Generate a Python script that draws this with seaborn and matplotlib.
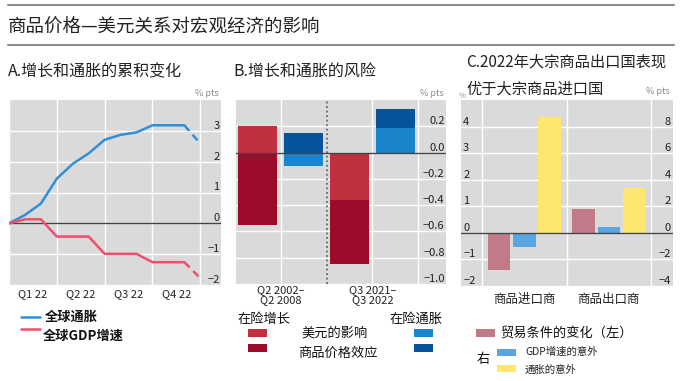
import numpy as np
import pandas as pd
import matplotlib
matplotlib.use('Agg')
import matplotlib.pyplot as plt
from matplotlib.patches import Rectangle
from matplotlib.lines import Line2D
import seaborn as sns

sns.set_theme(style="white")
plt.rcParams['font.family'] = ['Noto Sans CJK SC', 'DejaVu Sans']
plt.rcParams['axes.unicode_minus'] = True

W, H = 700, 381
BG = "#dadada"
GRAY_TXT = "#8a8a8a"

# ---- panel A data: cumulative change, monthly from start of 2022
months = list(range(13))
inflation = [0, 0.27, 0.64, 1.45, 1.93, 2.27, 2.71, 2.87, 2.95, 3.18, 3.18, 3.18, 2.59]
gdp_growth = [0, 0.13, 0.13, -0.43, -0.43, -0.43, -0.99, -0.99, -0.99, -1.26, -1.26, -1.26, -1.78]
quarter_labels = ["Q1 22", "Q2 22", "Q3 22", "Q4 22"]
yticks_a = [-2, -1, 0, 1, 2, 3]

# ---- panel B data: growth-at-risk / inflation-at-risk
periods_b = ["Q2 2002–\nQ2 2008", "Q3 2021–\nQ3 2022"]
growth_dollar = [0.20, -0.36]
growth_commodity = [-0.55, -0.49]
infl_dollar = [-0.10, 0.19]
infl_commodity = [0.15, 0.14]
yticks_b = [-1.0, -0.8, -0.6, -0.4, -0.2, 0.0, 0.2]

# ---- panel C data
groups_c = ["商品进口商", "商品出口商"]
terms_of_trade = [-1.38, 0.90]      # left axis
gdp_surprise = [-1.05, 0.43]        # right axis
infl_surprise = [8.70, 3.37]        # right axis
yticks_c_left = [-2, -1, 0, 1, 2, 3, 4]
yticks_c_right = [-4, -2, 0, 2, 4, 6, 8]

c_blue, c_red = "#2f8fd8", "#f04e6c"
b_lred, b_dred, b_lblue, b_dblue = "#c0303f", "#9c0c2a", "#1a84cc", "#07549a"
c_pink, c_sky, c_yel = "#c27a88", "#5aa6e2", "#ffe66e"


def fx(x):
    return x / W


def fy(y):
    return 1 - y / H


def ax_rect(l, t, r, b):
    return [fx(l), fy(b), (r - l) / W, (b - t) / H]


def style_ax(ax):
    ax.set_facecolor(BG)
    for s in ax.spines.values():
        s.set_visible(False)


fig = plt.figure(figsize=(7, 3.81), dpi=100)

# rules and title
fig.add_artist(Line2D([fx(8), fx(674)], [fy(5), fy(5)], color="#8c8c8c", lw=1.5))
fig.add_artist(Line2D([fx(8), fx(674)], [fy(45), fy(45)], color="#8c8c8c", lw=1.5))
fig.text(fx(8), fy(28), "商品价格—美元关系对宏观经济的影响", fontsize=13.3, va="center", ha="left", color="#222222")

# ================= Panel A =================
axA = fig.add_axes(ax_rect(9, 100, 221, 285))
style_ax(axA)
dfA = pd.DataFrame({"month": months, "infl": inflation, "gdp": gdp_growth})
sns.lineplot(data=dfA.iloc[:12], x="month", y="infl", color=c_blue, lw=1.8, ax=axA)
sns.lineplot(data=dfA.iloc[11:], x="month", y="infl", color=c_blue, lw=1.8, ax=axA, linestyle=(0, (3, 2)))
sns.lineplot(data=dfA.iloc[:12], x="month", y="gdp", color=c_red, lw=1.8, ax=axA)
sns.lineplot(data=dfA.iloc[11:], x="month", y="gdp", color=c_red, lw=1.8, ax=axA, linestyle=(0, (3, 2)))
axA.axhline(0, color="#444444", lw=1, zorder=1.5)
axA.set_xlim(0, 13.3)
axA.set_ylim(-2, 4)
axA.set_xticks([0, 3, 6, 9, 12])
axA.set_xticklabels([])
axA.set_xticks([1.5, 4.5, 7.5, 10.5], minor=True)
axA.set_xticklabels(quarter_labels, minor=True)
axA.tick_params(axis="x", which="major", direction="in", length=5, width=1, color="#444444")
axA.tick_params(axis="x", which="minor", length=0, pad=3, labelsize=8, labelcolor="#222222")
axA.grid(True, axis="both", which="major", color="white", lw=1)
axA.set_axisbelow(True)
axA.yaxis.tick_right()
axA.set_yticks(yticks_a)
axA.set_yticklabels([str(v).replace("-", "−") for v in yticks_a])
axA.tick_params(axis="y", length=0, pad=-1, labelsize=8, labelcolor="#222222")
for lab in axA.get_yticklabels():
    lab.set_horizontalalignment("right")
    lab.set_verticalalignment("bottom")
axA.set_xlabel("")
axA.set_ylabel("")

fig.text(fx(8), fy(72), "A.增长和通胀的累积变化", fontsize=11.5, va="center", ha="left", color="#222222")
fig.text(fx(207), fy(93), "% pts", fontsize=6.5, ha="center", va="center", color=GRAY_TXT)

fig.add_artist(Line2D([fx(21), fx(40)], [fy(317), fy(317)], color=c_blue, lw=1.8))
fig.add_artist(Line2D([fx(21), fx(40)], [fy(329), fy(329)], color=c_red, lw=1.8))
fig.text(fx(45), fy(317), "全球通胀", fontsize=9.5, fontweight="bold", va="center", ha="left", color="#111111")
fig.text(fx(43), fy(336), "全球GDP增速", fontsize=9.5, fontweight="bold", va="center", ha="left", color="#111111")

# ================= Panel B =================
axB = fig.add_axes(ax_rect(236, 100, 446, 284))
style_ax(axB)
x_growth = np.array([0, 2])
x_infl = np.array([1, 3])
gd = np.array(growth_dollar)
gc = np.array(growth_commodity)
idl = np.array(infl_dollar)
ic = np.array(infl_commodity)
# commodity effect stacks on the dollar effect when both point the same way
gc_bottom = np.where(np.sign(gd) == np.sign(gc), gd, 0)
ic_bottom = np.where(np.sign(idl) == np.sign(ic), idl, 0)
axB.bar(x_growth, gd, width=0.85, color=b_lred, linewidth=0, zorder=2)
axB.bar(x_growth, gc, bottom=gc_bottom, width=0.85, color=b_dred, linewidth=0, zorder=2)
axB.bar(x_infl, idl, width=0.83, color=b_lblue, linewidth=0, zorder=2)
axB.bar(x_infl, ic, bottom=ic_bottom, width=0.83, color=b_dblue, linewidth=0, zorder=2)
axB.axhline(0, color="#444444", lw=1, zorder=3)
axB.axvline(1.5, color="#666666", lw=1.3, linestyle=(0, (1, 1.5)), zorder=1.5)
axB.set_xlim(-0.47, 4.1)
axB.set_ylim(-1.0, 0.4)
axB.set_xticks([0.5, 2.5, 3.5])
axB.set_xticklabels([periods_b[0], periods_b[1], ""])
axB.tick_params(axis="x", length=0, pad=1, labelsize=8, labelcolor="#222222")
for lab in axB.get_xticklabels():
    lab.set_linespacing(0.95)
axB.grid(True, axis="both", color="white", lw=1)
axB.set_axisbelow(True)
axB.yaxis.tick_right()
axB.set_yticks(yticks_b)
axB.set_yticklabels([f"{v:.1f}".replace("-", "−") for v in yticks_b])
axB.tick_params(axis="y", length=0, pad=-1, labelsize=8, labelcolor="#222222")
for lab in axB.get_yticklabels():
    lab.set_horizontalalignment("right")
    lab.set_verticalalignment("bottom")
fig.text(fx(233), fy(72), "B.增长和通胀的风险", fontsize=11.5, va="center", ha="left", color="#222222")
fig.text(fx(432), fy(93), "% pts", fontsize=6.5, ha="center", va="center", color=GRAY_TXT)

fig.text(fx(237), fy(319), "在险增长", fontsize=9.5, va="center", ha="left", color="#111111")
fig.text(fx(442), fy(319), "在险通胀", fontsize=9.5, va="center", ha="right", color="#111111")
for (x0, y0, col) in [(248, 329, b_lred), (248, 344, b_dred), (414, 329, b_lblue), (414, 344, b_dblue)]:
    fig.add_artist(Rectangle((fx(x0), fy(y0 + 8)), 19 / W, 8 / H, transform=fig.transFigure,
                             facecolor=col, edgecolor="none"))
fig.text(fx(335), fy(333), "美元的影响", fontsize=9.5, va="center", ha="center", color="#111111")
fig.text(fx(338), fy(353), "商品价格效应", fontsize=9.5, va="center", ha="center", color="#111111")

# ================= Panel C =================
axC = fig.add_axes(ax_rect(461, 100, 673, 286))
style_ax(axC)
axC2 = axC.twinx()
for s in axC2.spines.values():
    s.set_visible(False)
series_c = ["贸易条件的变化（左）", "GDP增速的意外", "通胀的意外"]
xc = np.arange(len(groups_c))
bw = 0.265
axC.bar(xc - 0.3, terms_of_trade, width=bw, color=c_pink, linewidth=0, zorder=2)
axC2.bar(xc, gdp_surprise, width=bw, color=c_sky, linewidth=0, zorder=2)
axC2.bar(xc + 0.3, infl_surprise, width=bw, color=c_yel, linewidth=0, zorder=2)
axC2.axhline(0, color="#444444", lw=1, zorder=3)
axC.set_ylim(-2, 5)
axC2.set_ylim(-4, 10)
axC.set_xlim(-0.75, 1.76)
axC.set_xticks(xc)
axC.set_xticklabels(groups_c)
axC.set_xticks([-0.5, 0.5, 1.5], minor=True)
axC.tick_params(axis="x", which="major", direction="in", length=3, color="#b0b0b0",
                pad=5, labelsize=9, labelcolor="#222222")
axC.tick_params(axis="x", which="minor", direction="in", length=5, width=1, color="#444444")
axC.grid(True, axis="y", color="white", lw=1)
axC.grid(True, axis="x", which="minor", color="white", lw=1)
axC.set_axisbelow(True)
axC.set_yticks(yticks_c_left)
axC.set_yticklabels([str(v).replace("-", "−") for v in yticks_c_left])
axC.tick_params(axis="y", length=0, pad=-1.5, labelsize=8, labelcolor="#222222")
for lab in axC.get_yticklabels():
    lab.set_horizontalalignment("left")
    lab.set_verticalalignment("bottom")
axC2.set_yticks(yticks_c_right)
axC2.set_yticklabels([str(v).replace("-", "−") for v in yticks_c_right])
axC2.tick_params(axis="y", length=0, pad=-1.5, labelsize=8, labelcolor="#222222")
for lab in axC2.get_yticklabels():
    lab.set_horizontalalignment("right")
    lab.set_verticalalignment("bottom")
axC2.grid(False)

fig.text(fx(459), fy(96), "%", fontsize=5.5, ha="left", va="center", color=GRAY_TXT)
fig.text(fx(466), fy(62), "C.2022年大宗商品出口国表现", fontsize=11, va="center", ha="left", color="#222222")
fig.text(fx(466), fy(89), "优于大宗商品进口国", fontsize=11, va="center", ha="left", color="#222222")
fig.text(fx(658), fy(92), "% pts", fontsize=6.5, ha="center", va="center", color=GRAY_TXT)

fig.add_artist(Rectangle((fx(476), fy(337)), 19 / W, 8 / H, transform=fig.transFigure,
                         facecolor=c_pink, edgecolor="none"))
fig.text(fx(500), fy(333), series_c[0], fontsize=9.5, va="center", ha="left", color="#111111")
fig.text(fx(477), fy(360), "右", fontsize=9.5, va="center", ha="left", color="#111111")
fig.add_artist(Rectangle((fx(497), fy(356)), 19 / W, 7 / H, transform=fig.transFigure,
                         facecolor=c_sky, edgecolor="none"))
fig.add_artist(Rectangle((fx(497), fy(372)), 19 / W, 7 / H, transform=fig.transFigure,
                         facecolor=c_yel, edgecolor="none"))
fig.text(fx(525), fy(352), series_c[1], fontsize=7.5, va="center", ha="left", color="#222222")
fig.text(fx(525), fy(370), series_c[2], fontsize=7.5, va="center", ha="left", color="#222222")

fig.savefig("out.png", dpi=100, facecolor="white")
